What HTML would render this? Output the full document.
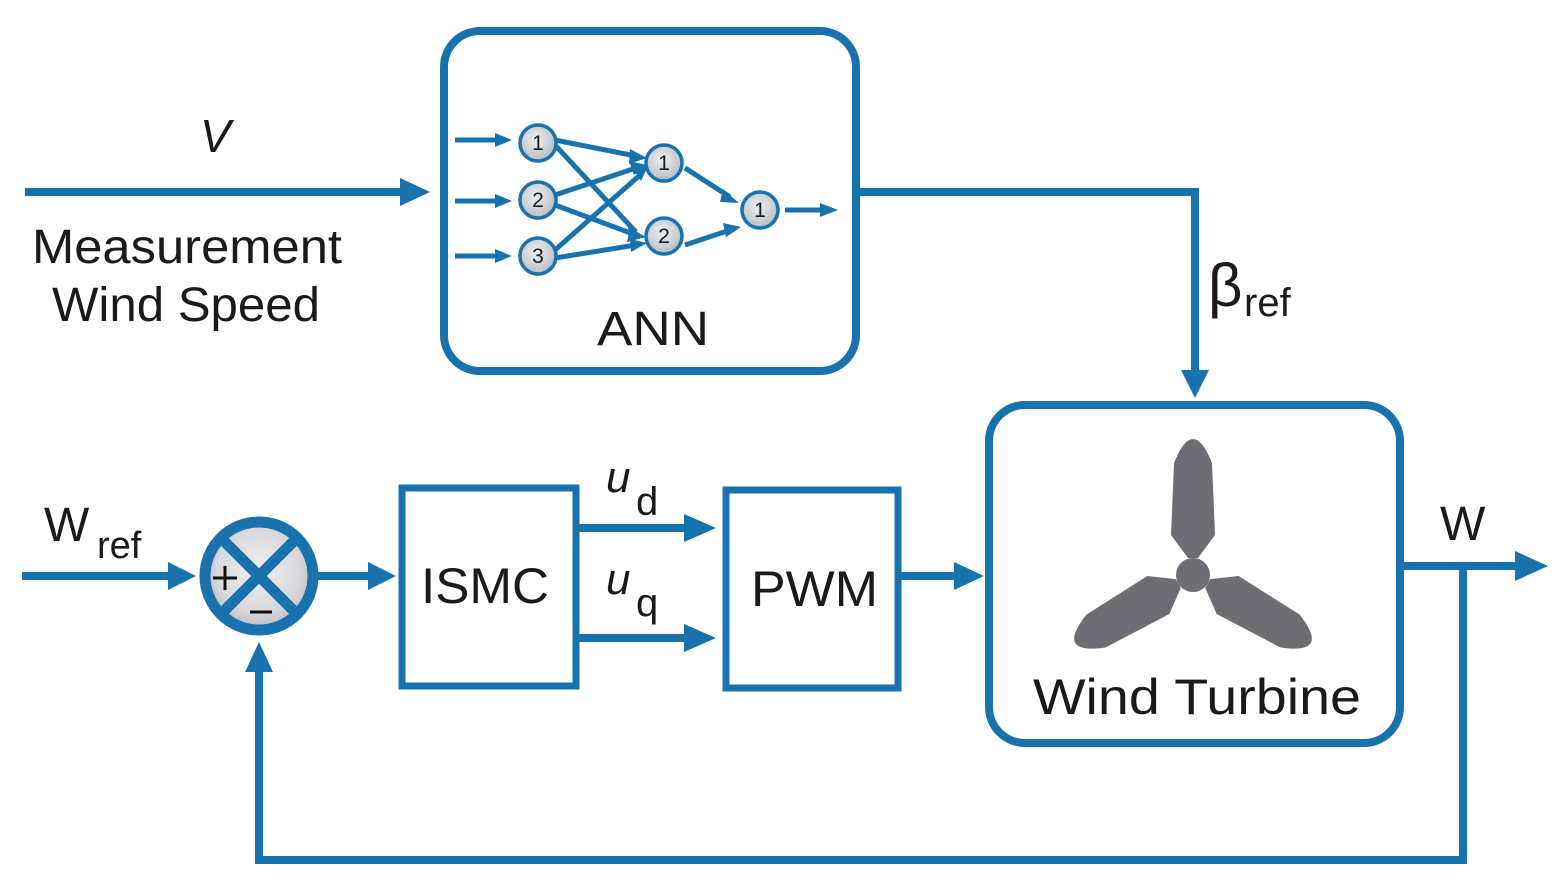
<!DOCTYPE html>
<html><head><meta charset="utf-8"><style>
html,body{margin:0;padding:0;background:#fff;}
svg{display:block;}
text{font-family:"Liberation Sans",sans-serif;fill:#1a1a1a;}
</style></head><body>
<svg width="1568" height="891" viewBox="0 0 1568 891" xmlns="http://www.w3.org/2000/svg">
<defs>
<radialGradient id="g" cx="50%" cy="45%" r="55%">
<stop offset="0" stop-color="#f2f2f4"/><stop offset="0.7" stop-color="#d8d8dc"/><stop offset="1" stop-color="#b8b8c0"/>
</radialGradient>
<radialGradient id="n" cx="45%" cy="40%" r="60%">
<stop offset="0" stop-color="#eef0f3"/><stop offset="1" stop-color="#b8bcc4"/>
</radialGradient>
</defs>
<g fill="none" stroke="#1872ad">
<rect x="444" y="31" width="412" height="340" rx="36" stroke-width="8"/>
<rect x="989" y="405" width="411" height="338" rx="36" stroke-width="8"/>
<rect x="402" y="488" width="174" height="198" stroke-width="7"/>
<rect x="726" y="490" width="172" height="198" stroke-width="7"/>
<g stroke-width="8">
<line x1="25" y1="192" x2="405" y2="192"/>
<polyline points="858,192 1195,192 1195,375"/>
<line x1="22" y1="576" x2="175" y2="576"/>
<line x1="318" y1="576" x2="375" y2="576"/>
<line x1="577" y1="528" x2="690" y2="528"/>
<line x1="577" y1="638" x2="690" y2="638"/>
<line x1="900" y1="576" x2="960" y2="576"/>
<line x1="1403" y1="566" x2="1520" y2="566"/>
<polyline points="1463,566 1463,860 259,860 259,665"/>
</g>
<g stroke-width="5">
<line x1="455" y1="140" x2="500" y2="140"/>
<line x1="455" y1="201" x2="500" y2="201"/>
<line x1="455" y1="256" x2="500" y2="256"/>
<line x1="555" y1="140" x2="636" y2="156"/>
<line x1="555" y1="145" x2="636" y2="232"/>
<line x1="555" y1="195" x2="636" y2="168"/>
<line x1="555" y1="205" x2="636" y2="235"/>
<line x1="555" y1="250" x2="640" y2="175"/>
<line x1="555" y1="258" x2="636" y2="245"/>
<line x1="685" y1="168" x2="730" y2="197"/>
<line x1="685" y1="245" x2="730" y2="230"/>
<line x1="785" y1="210" x2="825" y2="210"/>
</g>
</g>
<g fill="#1872ad">
<polygon points="400,178 430,192 400,206"/>
<polygon points="1181,370 1195,398 1209,370"/>
<polygon points="168,562 196,576 168,590"/>
<polygon points="368,562 396,576 368,590"/>
<polygon points="684,514 716,528 684,542"/>
<polygon points="684,624 716,638 684,652"/>
<polygon points="954,562 984,576 954,590"/>
<polygon points="1515,551 1548,566 1515,581"/>
<polygon points="245,672 259,642 273,672"/>
<polygon points="495,133 512,140 495,147"/>
<polygon points="495,194 512,201 495,208"/>
<polygon points="495,249 512,256 495,263"/>
<polygon points="630,149 647,158 629,164"/>
<polygon points="628,227 645,237 629,241"/>
<polygon points="629,161 647,165 634,175"/>
<polygon points="630,228 646,237 627,242"/>
<polygon points="633,169 648,166 641,181"/>
<polygon points="630,239 647,243 631,252"/>
<polygon points="723,189 739,203 720,202"/>
<polygon points="723,223 741,227 726,237"/>
<polygon points="820,203 838,210 820,217"/>
</g>
<g stroke="#1872ad" stroke-width="3.5" fill="url(#n)">
<circle cx="538" cy="143" r="18"/><circle cx="538" cy="200" r="18"/><circle cx="538" cy="256" r="18"/>
<circle cx="664" cy="163" r="18"/><circle cx="664" cy="236" r="18"/><circle cx="760" cy="210" r="18"/>
</g>
<g font-size="21" text-anchor="middle">
<text x="538" y="150">1</text><text x="538" y="207">2</text><text x="538" y="263">3</text>
<text x="664" y="170">1</text><text x="664" y="243">2</text><text x="760" y="217">1</text>
</g>
<circle cx="259" cy="576" r="54" fill="url(#g)" stroke="#1872ad" stroke-width="11"/>
<g stroke="#1872ad" stroke-width="11">
<line x1="222" y1="539" x2="296" y2="613"/><line x1="296" y1="539" x2="222" y2="613"/>
</g>
<g stroke="#111" stroke-width="3">
<line x1="213" y1="578" x2="237" y2="578"/><line x1="225" y1="566" x2="225" y2="590"/>
<line x1="250" y1="612" x2="272" y2="612"/>
</g>
<g fill="#6e6d74" transform="translate(1193,575)">
<path id="b" d="M-5,-17 L-22,-40 L-19,-112 Q0,-160 19,-112 L22,-40 L5,-17 Z"/>
<use href="#b" transform="rotate(120)"/>
<use href="#b" transform="rotate(240)"/>
<circle r="17"/>
</g>
<text x="200" y="152" font-size="46" font-style="italic">V</text>
<text x="32" y="263" font-size="48" textLength="310" lengthAdjust="spacingAndGlyphs">Measurement</text>
<text x="52" y="321" font-size="48" textLength="268" lengthAdjust="spacingAndGlyphs">Wind Speed</text>
<text x="597" y="345" font-size="48" textLength="112" lengthAdjust="spacingAndGlyphs">ANN</text>
<text x="1208" y="306" font-size="60" font-family="Liberation Serif">β</text>
<text x="1244" y="316" font-size="40">ref</text>
<text x="44" y="541" font-size="48">W</text>
<text x="97" y="558" font-size="38">ref</text>
<text x="421" y="603" font-size="50" textLength="128" lengthAdjust="spacingAndGlyphs">ISMC</text>
<text x="751" y="606" font-size="50" textLength="127" lengthAdjust="spacingAndGlyphs">PWM</text>
<text x="606" y="492" font-size="44" font-style="italic" font-family="Liberation Serif">u</text>
<text x="636" y="515" font-size="40">d</text>
<text x="606" y="594" font-size="44" font-style="italic" font-family="Liberation Serif">u</text>
<text x="636" y="616" font-size="40">q</text>
<text x="1033" y="714" font-size="50" textLength="328" lengthAdjust="spacingAndGlyphs">Wind Turbine</text>
<text x="1440" y="540" font-size="48">W</text>
</svg>
</body></html>
